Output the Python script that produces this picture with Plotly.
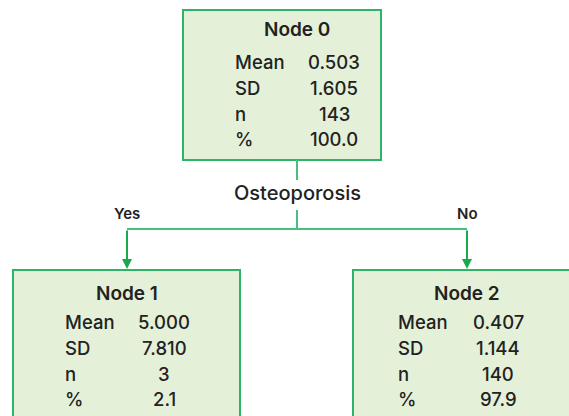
import plotly.graph_objects as go

# ---- data ----
node_names = ["Node 0", "Node 1", "Node 2"]
means = ["0.503", "5.000", "0.407"]
sds = ["1.605", "7.810", "1.144"]
ns = ["143", "3", "140"]
pcts = ["100.0", "2.1", "97.9"]
row_labels = ["Mean", "SD", "n", "%"]
split_label = "Osteoporosis"
branch_labels = ["Yes", "No"]

# ---- layout geometry (pixels) ----
W, H = 569, 416
boxes = [(183, 10, 381, 160), (13, 270, 240, 430), (353, 270, 580, 430)]
title_y = [29, 293, 293]
row_y0 = [62, 322, 322]
row_dy = 25.8
label_x = [233, 63, 396]
value_cx = [334, 164, 498]
centers = [297, 127, 467]

FILL = "#E4F1D8"
BORDER = "#2DB36A"
LINE = "#45C07F"
ARROW = "#1AAA4B"
TXT = "#222222"
FONT = "Inter, Noto Sans, sans-serif"
BODY = 18.5

fig = go.Figure()
fig.add_trace(go.Scatter(x=[0, W], y=[0, H], mode="markers",
                         marker=dict(opacity=0), hoverinfo="skip", showlegend=False))

shapes = []
annotations = []
for i, (x0, y0, x1, y1) in enumerate(boxes):
    shapes.append(dict(type="rect", x0=x0, y0=y0, x1=x1, y1=y1,
                       fillcolor=FILL, line=dict(color=BORDER, width=2), layer="below"))
    annotations.append(dict(x=centers[i], y=title_y[i], text=node_names[i],
                            showarrow=False, xanchor="center", yanchor="middle",
                            font=dict(size=19, color=TXT, family=FONT, weight=600)))
    vals = [means[i], sds[i], ns[i], pcts[i]]
    for r, (lab, v) in enumerate(zip(row_labels, vals)):
        yy = row_y0[i] + r * row_dy
        annotations.append(dict(x=label_x[i], y=yy, text=lab, showarrow=False,
                                xanchor="left", yanchor="middle",
                                font=dict(size=BODY, color=TXT, family=FONT, weight=500)))
        annotations.append(dict(x=value_cx[i], y=yy, text=v, showarrow=False,
                                xanchor="center", yanchor="middle",
                                font=dict(size=BODY, color=TXT, family=FONT, weight=500)))

# connectors
cx = centers[0]
shapes.append(dict(type="line", x0=cx, y0=160, x1=cx, y1=180, line=dict(color=LINE, width=2)))
shapes.append(dict(type="line", x0=cx, y0=210, x1=cx, y1=229, line=dict(color=LINE, width=2)))
shapes.append(dict(type="line", x0=centers[1], y0=229, x1=centers[2], y1=229,
                   line=dict(color=LINE, width=2)))
for c in centers[1:]:
    annotations.append(dict(x=c, y=269, ax=c, ay=229, xref="x", yref="y", axref="x", ayref="y",
                            showarrow=True, arrowhead=2, arrowsize=1.0, arrowwidth=2,
                            arrowcolor=ARROW, text=""))

annotations.append(dict(x=cx, y=193, text=split_label, showarrow=False,
                        xanchor="center", yanchor="middle",
                        font=dict(size=20, color=TXT, family=FONT, weight=500)))
annotations.append(dict(x=centers[1], y=213, text=branch_labels[0], showarrow=False,
                        xanchor="center", yanchor="middle",
                        font=dict(size=15, color=TXT, family=FONT, weight=600)))
annotations.append(dict(x=centers[2], y=213, text=branch_labels[1], showarrow=False,
                        xanchor="center", yanchor="middle",
                        font=dict(size=15, color=TXT, family=FONT, weight=600)))

fig.update_layout(
    width=W, height=H, margin=dict(l=0, r=0, t=0, b=0),
    paper_bgcolor="white", plot_bgcolor="white",
    xaxis=dict(range=[0, W], visible=False, fixedrange=True),
    yaxis=dict(range=[H, 0], visible=False, fixedrange=True),
    shapes=shapes, annotations=annotations, showlegend=False,
)
fig.write_html("out.html", config={"displayModeBar": False},
               post_script="document.body.style.margin='0px';document.body.style.overflow='hidden';")
